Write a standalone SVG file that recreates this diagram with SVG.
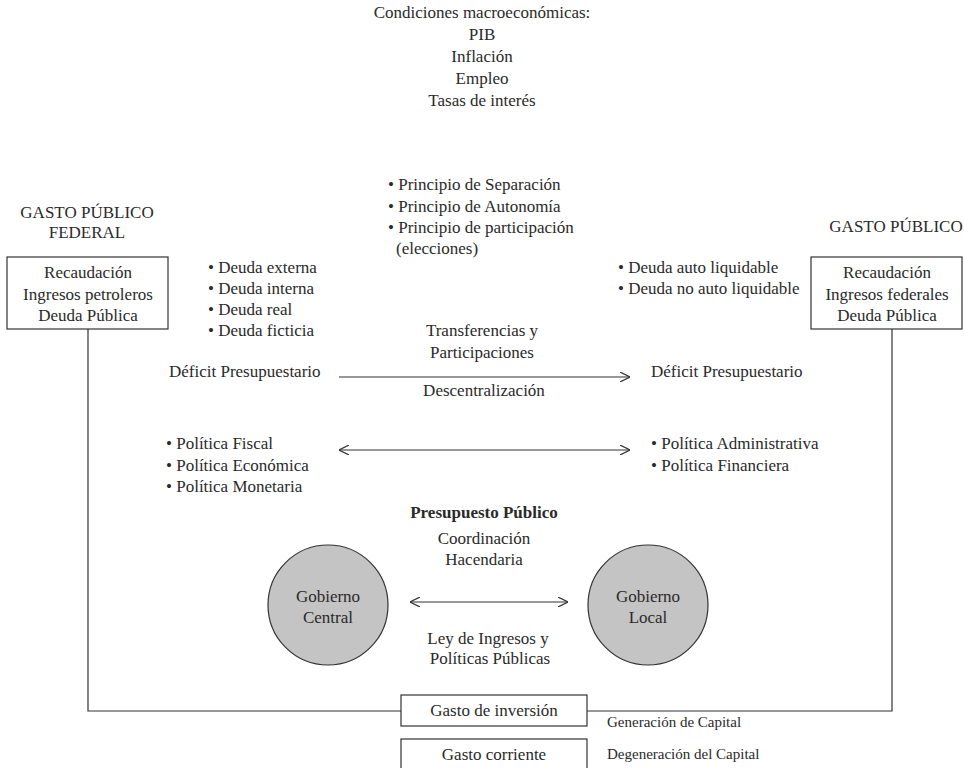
<svg xmlns="http://www.w3.org/2000/svg" width="964" height="768" viewBox="0 0 964 768">
<style>
text{font-family:"Liberation Serif","DejaVu Serif","Times New Roman",serif;font-size:17px;fill:#2a2a2a}
.c{text-anchor:middle}
.b{font-weight:bold}
.s{font-size:15px}
.box{fill:#fff;stroke:#333;stroke-width:1.2}
.ln{fill:none;stroke:#333;stroke-width:1.2}
.circ{fill:#c4c4c4;stroke:#333;stroke-width:1.2}
</style>
<defs>
<marker id="ah" viewBox="0 0 10 10" refX="10" refY="5" markerWidth="10" markerHeight="10" markerUnits="userSpaceOnUse" orient="auto-start-reverse">
<path d="M0,0 L10,5 L0,10" fill="none" stroke="#333" stroke-width="1.2"/>
</marker>
</defs>
<rect width="964" height="768" fill="#fff"/>
<g id="macro">
<text class="c" x="482" y="18">Condiciones macroeconómicas:</text>
<text class="c" x="482" y="40">PIB</text>
<text class="c" x="482" y="62">Inflación</text>
<text class="c" x="482" y="84">Empleo</text>
<text class="c" x="482" y="106">Tasas de interés</text>
</g>
<g id="gasto-federal-title">
<text class="c" x="87" y="218">GASTO PÚBLICO</text>
<text class="c" x="87" y="238">FEDERAL</text>
</g>
<g id="gasto-local-title">
<text class="c" x="896" y="232">GASTO PÚBLICO</text>
</g>
<g id="box-federal">
<rect class="box" x="7" y="257" width="161" height="72"/>
<text class="c" x="88" y="278">Recaudación</text>
<text class="c" x="88" y="300">Ingresos petroleros</text>
<text class="c" x="88" y="321">Deuda Pública</text>
</g>
<g id="box-local">
<rect class="box" x="811" y="257" width="151" height="72"/>
<text class="c" x="887" y="278">Recaudación</text>
<text class="c" x="887" y="300">Ingresos federales</text>
<text class="c" x="887" y="321">Deuda Pública</text>
</g>
<g id="deudas-federal">
<text x="208" y="273">• Deuda externa</text>
<text x="208" y="294">• Deuda interna</text>
<text x="208" y="315">• Deuda real</text>
<text x="208" y="336">• Deuda ficticia</text>
</g>
<g id="principios">
<text x="388" y="190">• Principio de Separación</text>
<text x="388" y="212">• Principio de Autonomía</text>
<text x="388" y="233">• Principio de participación</text>
<text x="396" y="254">(elecciones)</text>
</g>
<g id="deudas-local">
<text x="618" y="273">• Deuda auto liquidable</text>
<text x="618" y="294">• Deuda no auto liquidable</text>
</g>
<g id="transferencias">
<text class="c" x="482" y="336">Transferencias y</text>
<text class="c" x="482" y="358">Participaciones</text>
</g>
<g id="deficit-federal"><text x="169" y="377">Déficit Presupuestario</text></g>
<g id="deficit-local"><text x="651" y="377">Déficit Presupuestario</text></g>
<g id="descentralizacion"><text class="c" x="484" y="396">Descentralización</text></g>
<g id="politicas-federal">
<text x="166" y="449">• Política Fiscal</text>
<text x="166" y="471">• Política Económica</text>
<text x="166" y="492">• Política Monetaria</text>
</g>
<g id="politicas-local">
<text x="651" y="449">• Política Administrativa</text>
<text x="651" y="471">• Política Financiera</text>
</g>
<g id="presupuesto">
<text class="c b" x="484" y="518">Presupuesto Público</text>
<text class="c" x="484" y="544">Coordinación</text>
<text class="c" x="484" y="565">Hacendaria</text>
</g>
<g id="gobierno-central">
<circle class="circ" cx="328" cy="605" r="60"/>
<text class="c" x="328" y="602">Gobierno</text>
<text class="c" x="328" y="623">Central</text>
</g>
<g id="gobierno-local">
<circle class="circ" cx="648" cy="605" r="60"/>
<text class="c" x="648" y="602">Gobierno</text>
<text class="c" x="648" y="623">Local</text>
</g>
<g id="ley">
<text class="c" x="488" y="644">Ley de Ingresos y</text>
<text class="c" x="490" y="664">Políticas Públicas</text>
</g>
<g id="gasto-inversion">
<rect class="box" x="401" y="695" width="186" height="31"/>
<text class="c" x="494" y="716">Gasto de inversión</text>
</g>
<g id="gasto-corriente">
<rect class="box" x="401" y="739" width="186" height="33"/>
<text class="c" x="494" y="760">Gasto corriente</text>
</g>
<g id="generacion"><text class="s" x="607" y="727">Generación de Capital</text></g>
<g id="degeneracion"><text class="s" x="607" y="759">Degeneración del Capital</text></g>
<g id="connectors">
<line class="ln" x1="339" y1="377" x2="630" y2="377" marker-end="url(#ah)"/>
<line class="ln" x1="339" y1="450" x2="630" y2="450" marker-start="url(#ah)" marker-end="url(#ah)"/>
<line class="ln" x1="410" y1="602" x2="568" y2="602" marker-start="url(#ah)" marker-end="url(#ah)"/>
<polyline class="ln" points="88,329 88,711 401,711"/>
<polyline class="ln" points="892,329 892,711 587,711"/>
</g>
</svg>
